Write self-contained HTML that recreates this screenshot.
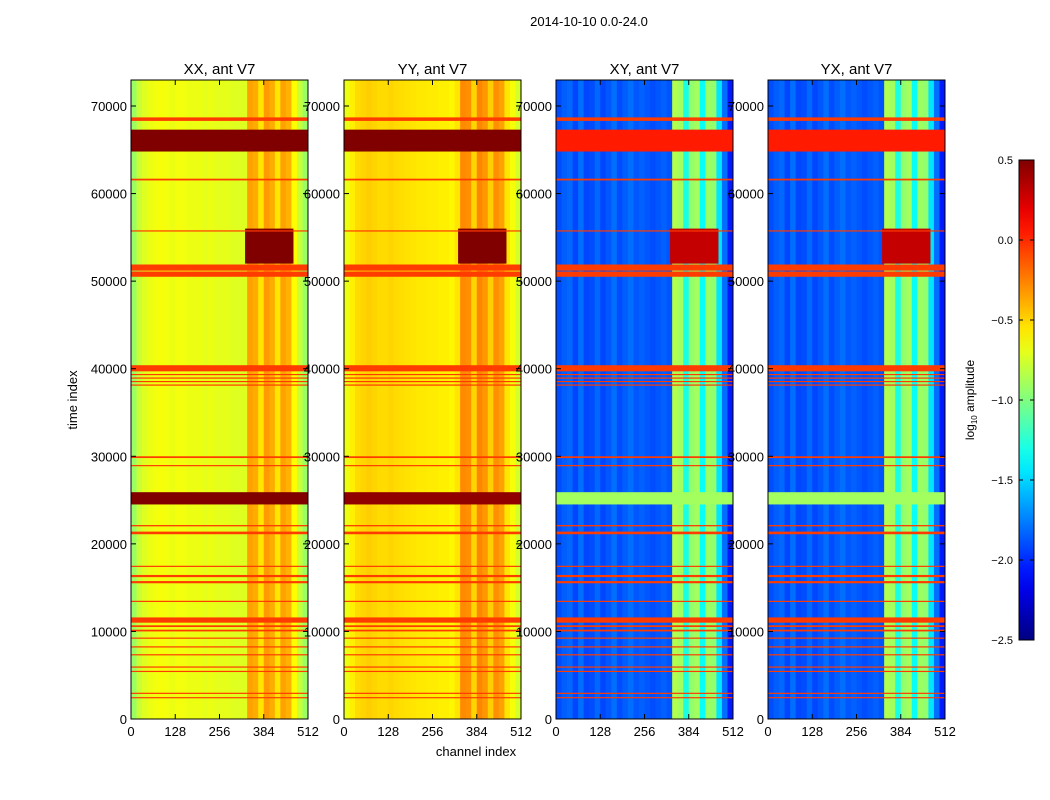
<!DOCTYPE html>
<html><head><meta charset="utf-8"><style>
body{margin:0;background:#fff;}
svg{display:block;font-family:"Liberation Sans",sans-serif;}
</style></head><body>
<svg id="fig" width="1050" height="800" viewBox="0 0 1050 800">
<text x="589" y="26" font-size="13" text-anchor="middle">2014-10-10 0.0-24.0</text>
</svg>
<script>
// ---- data ----
const panelTitles = ["XX, ant V7","YY, ant V7","XY, ant V7","YX, ant V7"];
const xTicks = [0,128,256,384,512];
const yTicks = [0,10000,20000,30000,40000,50000,60000,70000];
const cbTicks = [0.5,0.0,-0.5,-1.0,-1.5,-2.0,-2.5];
// column profiles (log10 amplitude), 32 bins of 16 channels
const profXX = [-0.92,-0.78,-0.72,-0.68,-0.66,-0.65,-0.66,-0.68,-0.66,-0.66,-0.68,-0.68,-0.68,-0.7,-0.68,-0.7,-0.7,-0.7,-0.72,-0.72,-0.72,-0.35,-0.38,-0.55,-0.33,-0.38,-0.55,-0.35,-0.4,-0.62,-0.78,-0.92];
const profYY = [-0.68,-0.58,-0.52,-0.5,-0.48,-0.5,-0.52,-0.52,-0.5,-0.52,-0.53,-0.54,-0.55,-0.56,-0.56,-0.57,-0.57,-0.58,-0.58,-0.6,-0.55,-0.28,-0.3,-0.5,-0.27,-0.32,-0.48,-0.3,-0.35,-0.55,-0.65,-0.75];
const profXY = [-1.9,-1.85,-1.82,-1.92,-1.8,-1.92,-1.9,-1.82,-1.92,-1.87,-1.8,-1.9,-1.85,-1.8,-1.87,-1.84,-1.87,-1.9,-1.87,-1.84,-1.88,-0.85,-0.9,-1.3,-0.95,-0.9,-1.35,-0.92,-0.95,-1.45,-1.8,-2.05];
const profYX = [-1.9,-1.85,-1.82,-1.92,-1.8,-1.92,-1.9,-1.82,-1.92,-1.87,-1.8,-1.9,-1.85,-1.8,-1.87,-1.84,-1.87,-1.9,-1.87,-1.84,-1.88,-0.85,-0.9,-1.3,-0.95,-0.9,-1.35,-0.92,-0.95,-1.45,-1.8,-2.05];
// flagged time rows [start, end]
const flagStart = [68300,61500,55700,51200,50500,39700,39300,38900,38500,38100,29800,28900,22000,21100,17400,16200,15500,13400,11000,10500,10000,9200,8200,7300,5900,5400,2900,2400];
const flagEnd   = [68700,61700,55800,51900,51100,40400,39400,39000,38600,38200,30000,29000,22150,21400,17500,16450,15750,13500,11600,10700,10200,9300,8300,7400,6000,5500,3000,2500];
const flagValue = -0.05;
// saturated bands: [t0, t1, ch0, ch1]
const bandT0 = [64800, 24500, 52000];
const bandT1 = [67300, 25900, 56000];
const bandC0 = [0, 0, 330];
const bandC1 = [512, 512, 470];
const bandXX = [0.5, 0.5, 0.5];
const bandYY = [0.5, 0.45, 0.5];
const bandXY = [0.05, -0.9, 0.3];
const bandYX = [0.05, -0.9, 0.3];
// ---- rendering ----
const NS="http://www.w3.org/2000/svg";
const fig=document.getElementById('fig');
function mk(tag,attrs,parent){const e=document.createElementNS(NS,tag);for(const k in attrs)e.setAttribute(k,attrs[k]);(parent||fig).appendChild(e);return e;}
function jet(v){let t=(v+2.5)/3;t=Math.max(0,Math.min(1,t));
 const f=x=>Math.max(0,Math.min(1,x));
 const r=f(1.5-Math.abs(4*t-3)),g=f(1.5-Math.abs(4*t-2)),b=f(1.5-Math.abs(4*t-1));
 return `rgb(${Math.round(r*255)},${Math.round(g*255)},${Math.round(b*255)})`;}
const panelX=[131,344,556,768], PW=177, PT=80, PB=719;
const yScale=t=>PB-t*(PB-106)/70000;
const profs=[profXX,profYY,profXY,profYX];
const bands=[bandXX,bandYY,bandXY,bandYX];
panelX.forEach((x0,p)=>{
 const xS=c=>x0+c*PW/512;
 const g=mk('g',{});
 
 
 profs[p].forEach((v,i)=>{
  const r=mk('rect',{x:xS(i*16),y:PT,width:PW/32+0.5,height:PB-PT,fill:jet(v)},g);
  
  
 });
 bandT0.forEach((t0,i)=>{
  const r=mk('rect',{x:xS(bandC0[i]),y:yScale(bandT1[i]),width:xS(bandC1[i])-xS(bandC0[i]),height:yScale(t0)-yScale(bandT1[i]),fill:jet(bands[p][i])},g);
  
  
 });
 flagStart.forEach((s,i)=>{
  const r=mk('rect',{x:x0,y:yScale(flagEnd[i]),width:PW,height:Math.max(1.2,yScale(s)-yScale(flagEnd[i])),fill:jet(flagValue)},g);
  
  
 });
 const fr=mk('rect',{x:x0,y:PT,width:PW,height:PB-PT,fill:'none',stroke:'#000','stroke-width':1});
 
 
 const tt=mk('text',{x:x0+PW/2,y:74,'font-size':15,'text-anchor':'middle'});
 tt.textContent=panelTitles[p];
 
 
 xTicks.forEach(c=>{const x=xS(c);
  mk('line',{x1:x,x2:x,y1:PB,y2:PB-5,stroke:'#000'});mk('line',{x1:x,x2:x,y1:PT,y2:PT+5,stroke:'#000'});
  const l=mk('text',{x:x,y:736,'font-size':13,'text-anchor':'middle'});l.textContent=c;
  
  });
 yTicks.forEach(t=>{const y=yScale(t);
  mk('line',{x1:x0,x2:x0+5,y1:y,y2:y,stroke:'#000'});mk('line',{x1:x0+PW,x2:x0+PW-5,y1:y,y2:y,stroke:'#000'});
  const l=mk('text',{x:x0-4,y:y+5,'font-size':13,'text-anchor':'end'});l.textContent=t;
  
  });
});
const xl=mk('text',{x:476,y:756,'font-size':13,'text-anchor':'middle'});xl.textContent='channel index';


const yl=mk('text',{x:77,y:400,'font-size':13,'text-anchor':'middle',transform:'rotate(-90 77 400)'});yl.textContent='time index';


// colorbar
const CX=1019,CW=15,CT=160,CB=640;
const cbS=v=>CB-(v+2.5)/3*(CB-CT);
const defs=mk('defs',{});const gr=mk('linearGradient',{id:'jg',x1:0,y1:1,x2:0,y2:0},defs);
for(let i=0;i<=20;i++){mk('stop',{offset:i/20,'stop-color':jet(-2.5+3*i/20)},gr);}
const cb=mk('rect',{x:CX,y:CT,width:CW,height:CB-CT,fill:'url(#jg)',stroke:'#000'});


cbTicks.forEach(v=>{const y=cbS(v);
 mk('line',{x1:CX,x2:CX+4,y1:y,y2:y,stroke:'#000'});mk('line',{x1:CX+CW,x2:CX+CW-4,y1:y,y2:y,stroke:'#000'});
 const l=mk('text',{x:1013,y:y+4,'font-size':11,'text-anchor':'end'});l.textContent=v.toFixed(1).replace('-','\u2212');
 
 });
const cl=mk('text',{x:974,y:400,'font-size':12,'text-anchor':'middle',transform:'rotate(-90 974 400)'});
cl.innerHTML='log<tspan font-size="8" dy="3">10</tspan><tspan dy="-3"> amplitude</tspan>';


</script>
</body></html>
